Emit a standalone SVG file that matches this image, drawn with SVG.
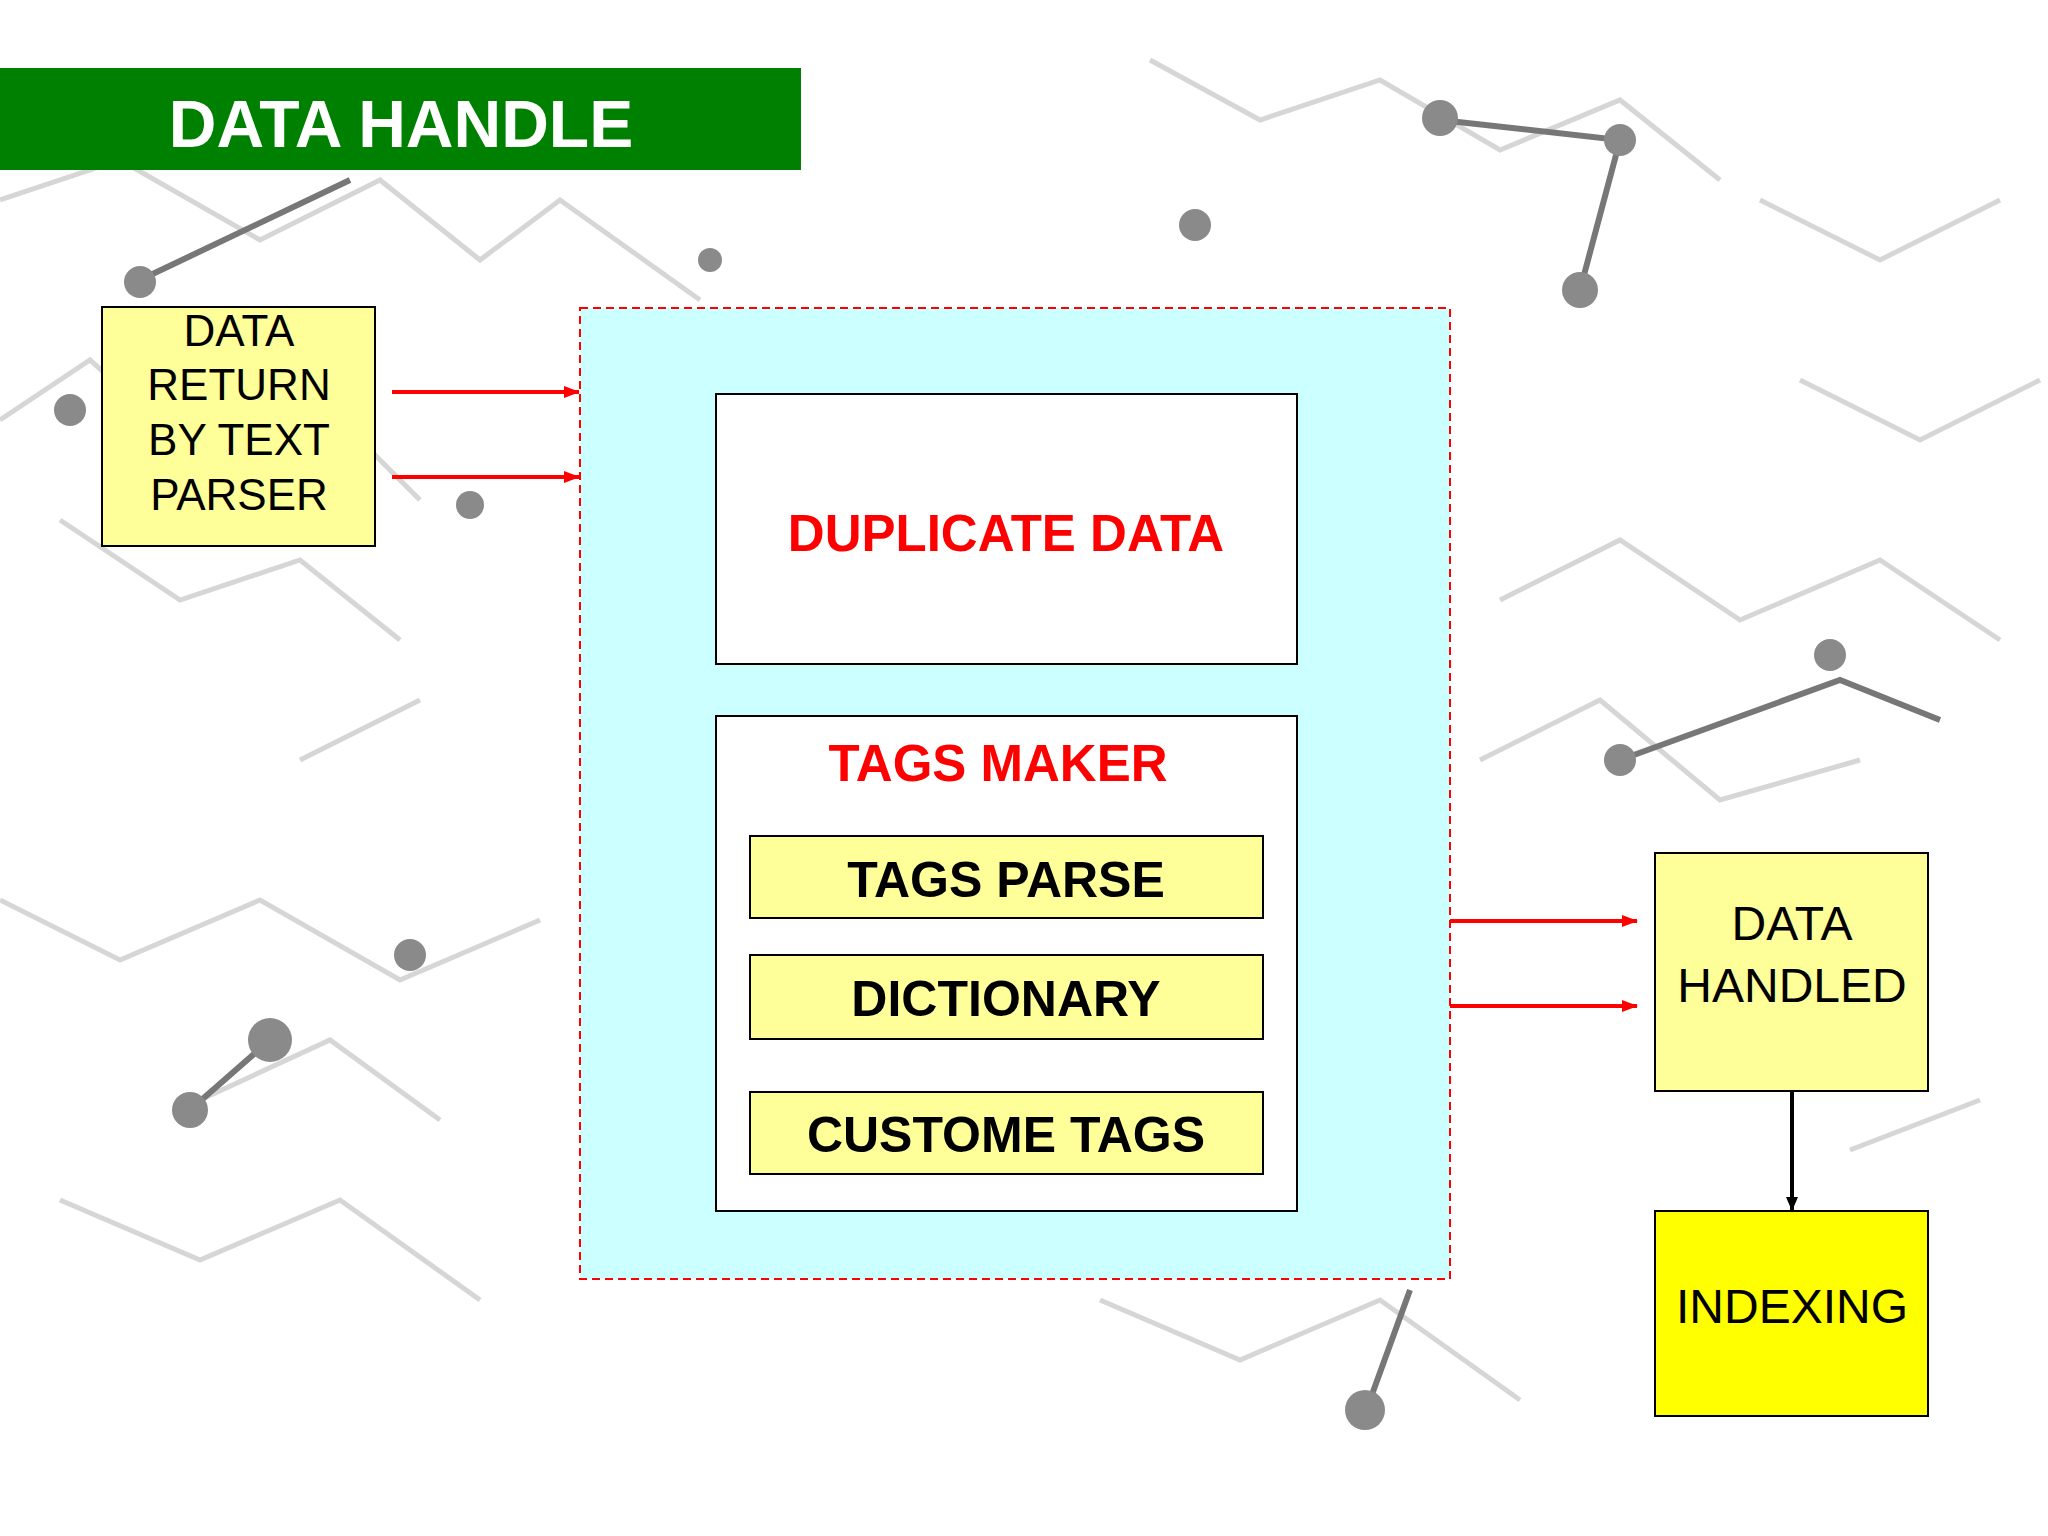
<svg xmlns="http://www.w3.org/2000/svg" width="2048" height="1536" viewBox="0 0 2048 1536">
<defs>
<style>
.t{font-family:"Liberation Sans",Arial,sans-serif;text-anchor:middle;dominant-baseline:central}
.b{font-weight:bold}
.bg{stroke:#d6d6d6;stroke-width:5;fill:none}
.st{stroke:#777;stroke-width:6;fill:none}
.ball{fill:#8a8a8a}
</style>
<marker id="ar" markerWidth="16" markerHeight="12" refX="15" refY="6" orient="auto" markerUnits="userSpaceOnUse"><path d="M0,0L16,6L0,12z" fill="#ff0000"/></marker>
<marker id="ak" markerWidth="14" markerHeight="12" refX="13" refY="6" orient="auto" markerUnits="userSpaceOnUse"><path d="M0,0L14,6L0,12z" fill="#000"/></marker>
</defs>
<rect width="2048" height="1536" fill="#fff"/>
<g id="background">
<path class="bg" d="M0,200L120,160L260,240L380,180L480,260L560,200L700,300M0,420L90,360L200,460L320,400L420,500M60,520L180,600L300,560L400,640M1150,60L1260,120L1380,80L1500,150L1620,100L1720,180M1500,600L1620,540L1740,620L1880,560L2000,640M1480,760L1600,700L1720,800L1860,760M0,900L120,960L260,900L400,980L540,920M60,1200L200,1260L340,1200L480,1300M1100,1300L1240,1360L1380,1300L1520,1400M1760,200L1880,260L2000,200M1800,380L1920,440L2040,380M300,760L420,700M200,1100L330,1040L440,1120M1850,1150L1980,1100"/>
<path class="st" d="M140,280L350,180M1440,120L1620,140L1580,290M1620,760L1840,680L1940,720M190,1110L270,1040M1370,1400L1410,1290"/>
<circle class="ball" cx="140" cy="282" r="16"/><circle class="ball" cx="1440" cy="118" r="18"/><circle class="ball" cx="1620" cy="140" r="16"/><circle class="ball" cx="1580" cy="290" r="18"/><circle class="ball" cx="1620" cy="760" r="16"/><circle class="ball" cx="1830" cy="655" r="16"/><circle class="ball" cx="190" cy="1110" r="18"/><circle class="ball" cx="270" cy="1040" r="22"/><circle class="ball" cx="1365" cy="1410" r="20"/><circle class="ball" cx="410" cy="955" r="16"/><circle class="ball" cx="1195" cy="225" r="16"/><circle class="ball" cx="70" cy="410" r="16"/><circle class="ball" cx="470" cy="505" r="14"/><circle class="ball" cx="710" cy="260" r="12"/>
</g>
<g id="title"><rect x="0" y="68" width="801" height="102" fill="#008000"/><text class="t b" x="401" y="124" font-size="66" fill="#fff">DATA HANDLE</text></g>
<g id="source"><rect x="102" y="307" width="273" height="239" fill="#ffff99" stroke="#000" stroke-width="2"/>
<text class="t" x="239" y="330" font-size="44">DATA</text><text class="t" x="239" y="384" font-size="44">RETURN</text><text class="t" x="239" y="439" font-size="44">BY TEXT</text><text class="t" x="239" y="494" font-size="44">PARSER</text></g>
<g id="container"><rect x="580" y="308" width="870" height="971" fill="#ccffff" stroke="#ff0000" stroke-width="2" stroke-dasharray="8,5"/></g>
<g id="duplicate"><rect x="716" y="394" width="581" height="270" fill="#fff" stroke="#000" stroke-width="2"/><text class="t b" x="1006" y="533" font-size="51" fill="#ff0000">DUPLICATE DATA</text></g>
<g id="tagsmaker"><rect x="716" y="716" width="581" height="495" fill="#fff" stroke="#000" stroke-width="2"/><text class="t b" x="998" y="763" font-size="51" fill="#ff0000">TAGS MAKER</text></g>
<g id="tagsparse"><rect x="750" y="836" width="513" height="82" fill="#ffff99" stroke="#000" stroke-width="2"/><text class="t b" x="1006" y="880" font-size="50">TAGS PARSE</text></g>
<g id="dictionary"><rect x="750" y="955" width="513" height="84" fill="#ffff99" stroke="#000" stroke-width="2"/><text class="t b" x="1006" y="999" font-size="50">DICTIONARY</text></g>
<g id="custometags"><rect x="750" y="1092" width="513" height="82" fill="#ffff99" stroke="#000" stroke-width="2"/><text class="t b" x="1006" y="1135" font-size="50">CUSTOME TAGS</text></g>
<g id="handled"><rect x="1655" y="853" width="273" height="238" fill="#ffff99" stroke="#000" stroke-width="2"/><text class="t" x="1792" y="923" font-size="48">DATA</text><text class="t" x="1792" y="985" font-size="48">HANDLED</text></g>
<g id="indexing"><rect x="1655" y="1211" width="273" height="205" fill="#ffff00" stroke="#000" stroke-width="2"/><text class="t" x="1792" y="1306" font-size="48">INDEXING</text></g>
<g id="connectors" stroke-width="4">
<line x1="392" y1="392" x2="579" y2="392" stroke="#ff0000" marker-end="url(#ar)"/>
<line x1="392" y1="477" x2="579" y2="477" stroke="#ff0000" marker-end="url(#ar)"/>
<line x1="1450" y1="921" x2="1637" y2="921" stroke="#ff0000" marker-end="url(#ar)"/>
<line x1="1450" y1="1006" x2="1637" y2="1006" stroke="#ff0000" marker-end="url(#ar)"/>
<line x1="1792" y1="1091" x2="1792" y2="1210" stroke="#000" marker-end="url(#ak)"/>
</g>
</svg>
